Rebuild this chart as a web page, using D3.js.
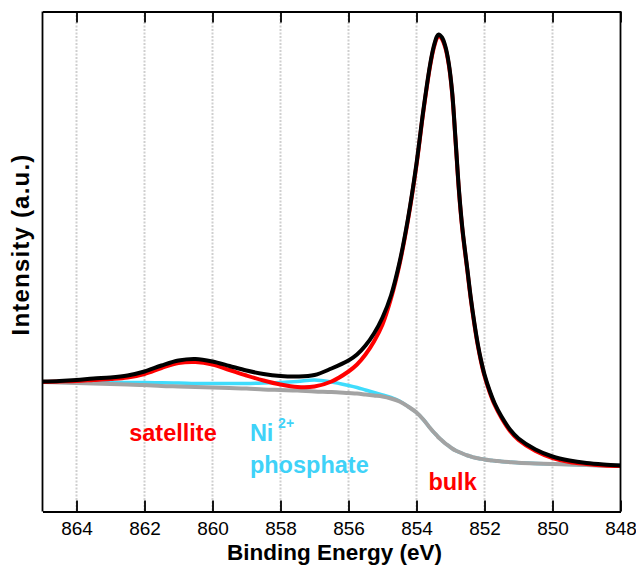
<!DOCTYPE html>
<html>
<head>
<meta charset="utf-8">
<script src="https://cdn.jsdelivr.net/npm/d3@7"></script>
<style>
  body { margin: 0; background: #fff; }
  text { font-family: "Liberation Sans", Arial, Helvetica, sans-serif; }
</style>
</head>
<body>
<svg id="chart" width="636" height="573"></svg>
<script>
// binding energy grid (eV)
var energy = [865, 864.5, 864, 863.5, 863, 862.5, 862, 861.5, 861, 860.5, 860, 859.5, 859, 858.5, 858, 857.5, 857, 856.5, 856,
  855.75, 855.5, 855.25, 855, 854.75, 854.5, 854.25, 854, 853.8, 853.6, 853.5, 853.4, 853.35,
  853.25, 853.15, 853.05, 852.95, 852.85, 852.75, 852.65, 852.5, 852.4, 852.3, 852.2, 852.1, 852,
  851.85, 851.7, 851.5, 851.25, 851, 850.5, 850, 849.5, 849, 848.5, 848];

// measured spectrum (black)
var measured = [130, 130.5, 131.5, 133, 134, 136, 140, 146, 151, 152.5, 150, 145.5, 141, 137.5, 135.5, 135, 136.5, 143, 151,
  157, 166, 178, 194, 216, 249, 293, 348, 401, 447, 464, 475, 477,
  474, 465, 448, 419, 371, 321, 283, 241, 213, 189, 168, 151, 137,
  121, 108, 95, 82, 73, 62, 55, 51, 48.5, 47, 46];

// bulk + satellite fit (red)
var bulkFit = [129.5, 130, 130.5, 131.5, 132.5, 134, 137.5, 143.5, 148.5, 149.5, 147, 141.5, 136, 131, 127, 124.5, 125, 130, 140,
  147, 157, 170, 187, 213, 247, 291.5, 346.5, 399.5, 445.5, 462.5, 473.5, 475.5,
  472.5, 463.5, 446.5, 417.5, 369.5, 319.5, 281.5, 239.5, 211.5, 187.5, 166.5, 149.5, 135.5,
  119.5, 106.5, 93.5, 80.5, 71.5, 60.5, 53.5, 49.5, 47.5, 46, 45.5];

// Ni2+ phosphate component (cyan)
var phosphateFit = [129.5, 129.2, 129, 129, 129, 129, 129, 128.7, 128.5, 128, 128, 128, 128, 128.5, 129, 130, 131.5, 129.5, 126,
  124, 121.5, 119, 116.5, 114, 110.5, 105, 99, 92, 83.5, 79.5, 76, 74,
  71, 68, 65.5, 63, 61, 59.5, 58, 56, 55, 54, 53.3, 52.6, 52,
  51.3, 50.8, 50, 49.3, 48.7, 48, 47.5, 47, 46.5, 46, 46];

// Shirley background (gray)
var background = [129.5, 129, 128.5, 128, 127.5, 127, 126.5, 125.5, 125, 124.5, 124, 123.5, 123, 122, 121.5, 121, 120, 119.5, 118.5,
  118, 117, 116, 115, 113, 110, 105, 99, 92, 83.5, 79.5, 76, 74,
  71, 68, 65.5, 63, 61, 59.5, 58, 56, 55, 54, 53.3, 52.6, 52,
  51.3, 50.8, 50, 49.3, 48.7, 48, 47.5, 47, 46.5, 46, 46];

var xTicks = [864, 862, 860, 858, 856, 854, 852, 850, 848];

var margin = { top: 11.5, right: 15.5, bottom: 61.5, left: 42.5 },
  width = 636 - margin.left - margin.right,
  height = 573 - margin.top - margin.bottom;

var svg = d3.select("#chart")
  .append("g")
  .attr("transform", "translate(" + margin.left + "," + margin.top + ")");

var x = d3.scaleLinear().domain([865, 848]).range([0, width]);
var y = d3.scaleLinear().domain([0, 500]).range([height, 0]);

// dotted grid
svg.selectAll(".grid")
  .data(xTicks.slice(0, -1))
  .enter().append("line")
  .attr("x1", function (d) { return x(d); })
  .attr("x2", function (d) { return x(d); })
  .attr("y1", 0)
  .attr("y2", height)
  .attr("stroke", "#cfcfcf")
  .attr("stroke-width", 2)
  .attr("stroke-dasharray", "2,1.5");

function series(vals) {
  return energy.map(function (e, i) { return [e, vals[i]]; });
}

var line = d3.line()
  .x(function (d) { return x(d[0]); })
  .y(function (d) { return y(d[1]); })
  .curve(d3.curveCatmullRom.alpha(0.5));

svg.append("path").datum(series(phosphateFit))
  .attr("fill", "none").attr("stroke", "#3fdcfc").attr("stroke-width", 3.5)
  .attr("d", line);

svg.append("path").datum(series(background))
  .attr("fill", "none").attr("stroke", "#a3a3a3").attr("stroke-width", 4)
  .attr("d", line);

svg.append("path").datum(series(bulkFit))
  .attr("fill", "none").attr("stroke", "#ff0000").attr("stroke-width", 4)
  .attr("d", line);

svg.append("path").datum(series(measured))
  .attr("fill", "none").attr("stroke", "#000").attr("stroke-width", 4)
  .attr("stroke-linejoin", "round")
  .attr("d", line);

// bottom axis, ticks pointing in
svg.append("g")
  .attr("transform", "translate(0," + height + ")")
  .call(d3.axisBottom(x).tickValues(xTicks).tickSizeInner(-11).tickSizeOuter(0).tickPadding(10))
  .call(function (g) {
    g.select(".domain").attr("stroke-width", 1.8);
    g.selectAll(".tick line").attr("stroke-width", 1.8);
    g.selectAll(".tick text").attr("font-size", 19).attr("font-family", "'Liberation Sans', Arial, sans-serif");
  });

// top axis, ticks pointing in
svg.append("g")
  .call(d3.axisTop(x).tickValues(xTicks).tickSizeInner(-11).tickSizeOuter(0).tickFormat(""))
  .call(function (g) {
    g.select(".domain").attr("stroke-width", 1.8);
    g.selectAll(".tick line").attr("stroke-width", 1.8);
  });

// left / right frame
svg.append("line").attr("x1", 0).attr("x2", 0).attr("y1", 0).attr("y2", height)
  .attr("stroke", "#000").attr("stroke-width", 1.8);
svg.append("line").attr("x1", width).attr("x2", width).attr("y1", 0).attr("y2", height)
  .attr("stroke", "#000").attr("stroke-width", 1.8);

// axis titles
svg.append("text")
  .attr("x", width / 2 + 3)
  .attr("y", height + 48)
  .attr("text-anchor", "middle")
  .attr("font-size", 22.5)
  .attr("font-weight", "bold")
  .text("Binding Energy (eV)");

svg.append("text")
  .attr("transform", "translate(" + (-13.5) + "," + (height / 2 - 17) + ") rotate(-90)")
  .attr("text-anchor", "middle")
  .attr("font-size", 24)
  .attr("letter-spacing", 1.2)
  .attr("font-weight", "bold")
  .text("Intensity (a.u.)");

// component labels
svg.append("text")
  .attr("x", x(862.45)).attr("y", y(71))
  .attr("fill", "#ff0000").attr("font-size", 23.5).attr("font-weight", "bold")
  .text("satellite");

svg.append("text")
  .attr("x", x(858.9)).attr("y", y(71))
  .attr("fill", "#3fd2f8").attr("font-size", 23.5).attr("font-weight", "bold")
  .text("Ni");

svg.append("text")
  .attr("x", x(858.07)).attr("y", y(83.5))
  .attr("fill", "#3fd2f8").attr("font-size", 14).attr("font-weight", "bold")
  .text("2+");

svg.append("text")
  .attr("x", x(858.9)).attr("y", y(39))
  .attr("fill", "#3fd2f8").attr("font-size", 23.5).attr("font-weight", "bold")
  .text("phosphate");

svg.append("text")
  .attr("x", x(853.65)).attr("y", y(21.5))
  .attr("fill", "#ff0000").attr("font-size", 23.5).attr("font-weight", "bold")
  .text("bulk");
</script>
</body>
</html>
